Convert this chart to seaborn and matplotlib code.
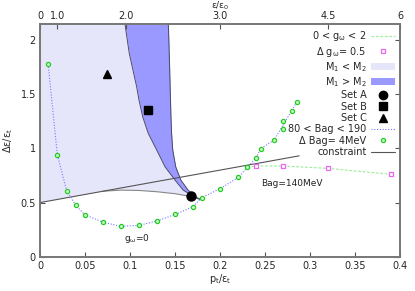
import matplotlib
matplotlib.use("Agg")
import matplotlib.pyplot as plt
import seaborn as sns
import numpy as np
import pandas as pd
from matplotlib.lines import Line2D
from matplotlib.patches import Patch

# ---- data ----
bag_p = [0.009, 0.0193, 0.0296, 0.0396, 0.0496, 0.0696, 0.0896, 0.11, 0.13, 0.15,
         0.1696, 0.1796, 0.2, 0.2204, 0.2304, 0.2396, 0.245, 0.26, 0.27, 0.27,
         0.2796, 0.285]
bag_y = [1.78, 0.94, 0.61, 0.477, 0.388, 0.32, 0.28, 0.29, 0.33, 0.39,
         0.46, 0.545, 0.628, 0.733, 0.825, 0.908, 0.997, 1.077, 1.176, 1.256,
         1.348, 1.425]

gw_p = [0.2304, 0.24, 0.2704, 0.3204, 0.39]
gw_y = [0.825, 0.838, 0.838, 0.816, 0.761]

constraint_p = [0.0, 0.288]
constraint_y = [0.5, 0.932]

# M1 > M2 region: left and right boundaries (as functions of y)
dark_y = [2.15, 1.878, 1.57, 1.447, 1.293, 1.139, 0.985, 0.831, 0.708, 0.616, 0.554, 0.53]
dark_left = [0.0944, 0.0992, 0.1074, 0.110, 0.1141, 0.1203, 0.1297, 0.1389, 0.150, 0.159, 0.171, 0.178]
dark_right = [0.1426, 0.1436, 0.1446, 0.1450, 0.1455, 0.1462, 0.1475, 0.1508, 0.1565, 0.1645, 0.1725, 0.178]

# M1 < M2 region lower boundary
light_low_p = [0.0, 0.07, 0.09, 0.11, 0.13, 0.15, 0.165, 0.178]
light_low_y = [0.5, 0.605, 0.615, 0.612, 0.60, 0.582, 0.56, 0.53]

setA = (0.1674, 0.56)
setB = (0.1196, 1.36)
setC = (0.074, 1.69)

xticks = [0, 0.05, 0.1, 0.15, 0.2, 0.25, 0.3, 0.35, 0.4]
xticklabels = ["0", "0.05", "0.1", "0.15", "0.2", "0.25", "0.3", "0.35", "0.4"]
yticks = [0, 0.5, 1, 1.5, 2]
yticklabels = ["0", "0.5", "1", "1.5", "2"]
top_pos = [0.0, 0.0193, 0.0956, 0.2, 0.3204, 0.4]
top_labels = ["0", "1.0", "2.0", "3.0", "4.5", "6"]

# ---- style ----
sns.set_theme(style="white")
plt.rcParams['font.family'] = ['DejaVu Sans']
plt.rcParams['mathtext.default'] = 'regular'
fs = 7

fig = plt.figure(figsize=(4.15, 2.91), dpi=100)
ax = fig.add_axes([40/415, 1-256.7/291, 360/415, (256.7-24)/291])

light_c = '#e6e6fa'
dark_c = '#9999ff'
edge_c = '#4a4a6a'

# light region polygon
lp = list(light_low_p) + dark_left[::-1][1:] + [0.0]
ly = list(light_low_y) + dark_y[::-1][1:] + [2.15]
ax.fill(lp, ly, color=light_c, lw=0, zorder=1)
ax.plot(light_low_p[1:], light_low_y[1:], color='#888888', lw=0.8, zorder=2)

# dark region
ax.fill_betweenx(dark_y, dark_left, dark_right, color=dark_c, lw=0, zorder=2)
ax.plot(dark_left, dark_y, color=edge_c, lw=0.7, zorder=3)
ax.plot(dark_right, dark_y, color=edge_c, lw=0.7, zorder=3)

# constraint
sns.lineplot(x=constraint_p, y=constraint_y, ax=ax, color='#555555', lw=0.8, zorder=4)

# Bag curve
dfb = pd.DataFrame({'p': bag_p, 'y': bag_y})
sns.lineplot(data=dfb, x='p', y='y', sort=False, ax=ax, color='#7777ff', lw=0.8,
             linestyle=(0, (1, 1.5)), zorder=5)
ax.plot(bag_p, bag_y, ls='none', marker='o', ms=3.0, mfc='#ccffcc', mec='#22cc22', mew=0.9, zorder=6)

# g_omega curve
dfg = pd.DataFrame({'p': gw_p, 'y': gw_y})
sns.lineplot(data=dfg, x='p', y='y', sort=False, ax=ax, color='#99ee99', lw=0.8,
             linestyle=(0, (2.5, 1.5)), zorder=5)
ax.plot(gw_p[1:], gw_y[1:], ls='none', marker='s', ms=3.5, mfc='white', mec='#ee66ee', mew=0.9, zorder=6)

# sets
ax.plot(*setA, marker='o', color='black', ms=6.5, ls='none', zorder=7)
ax.plot(*setB, marker='s', color='black', ms=6, ls='none', zorder=7)
ax.plot(*setC, marker='^', color='black', ms=5.5, ls='none', zorder=7)

ax.text(0.108, 0.17, r'g$_\omega$=0', fontsize=6.5, ha='center', va='center', color='#222222')
ax.text(0.28, 0.68, 'Bag=140MeV', fontsize=6.5, ha='center', va='center', color='#222222')

ax.set_xlim(0, 0.4)
ax.set_ylim(0, 2.15)
ax.set_xticks(xticks)
ax.set_xticklabels(xticklabels)
ax.set_yticks(yticks)
ax.set_yticklabels(yticklabels)
ax.set_xlabel('p$_t$/ε$_t$', fontsize=fs, labelpad=1)
ax.set_ylabel('Δε/ε$_t$', fontsize=fs, labelpad=4)
ax.tick_params(axis='both', direction='in', length=3.5, width=0.8, color='#555555',
               labelsize=fs, pad=3, right=True, left=True, bottom=True)

ax2 = ax.twiny()
ax2.set_xlim(0, 0.4)
ax2.set_xticks(top_pos)
ax2.set_xticklabels(top_labels)
ax2.tick_params(axis='x', direction='in', length=3.5, width=0.8, color='#555555',
                labelsize=fs, pad=2)
ax2.set_xlabel('ε/ε$_0$', fontsize=6.5, labelpad=2)

for a in (ax, ax2):
    for s in a.spines.values():
        s.set_color('#777777')
        s.set_linewidth(1.2)
        s.set_visible(True)

handles = [
    Line2D([], [], color='#99ee99', lw=0.8, linestyle=(0, (2.5, 1.5))),
    Line2D([], [], ls='none', marker='s', ms=3.5, mfc='white', mec='#ee66ee', mew=0.9),
    Patch(facecolor=light_c, edgecolor='none'),
    Patch(facecolor=dark_c, edgecolor='none'),
    Line2D([], [], ls='none', marker='o', color='black', ms=6),
    Line2D([], [], ls='none', marker='s', color='black', ms=5.5),
    Line2D([], [], ls='none', marker='^', color='black', ms=5.5),
    Line2D([], [], color='#7777ff', lw=0.8, linestyle=(0, (1, 1.5))),
    Line2D([], [], ls='none', marker='o', ms=3.0, mfc='#ccffcc', mec='#22cc22', mew=0.9),
    Line2D([], [], color='#555555', lw=0.8),
]
labels = [r'0 < g$_\omega$ < 2', r'Δ g$_\omega$= 0.5', 'M$_1$ < M$_2$', 'M$_1$ > M$_2$',
          'Set A', 'Set B', 'Set C', '80 < Bag < 190', 'Δ Bag= 4MeV', 'constraint']
leg = ax.legend(handles, labels, loc='upper right', bbox_to_anchor=(1.0, 1.0),
                markerfirst=False, frameon=False, fontsize=fs, handlelength=2.4,
                handleheight=0.7, labelspacing=0.14, handletextpad=0.5, borderaxespad=0.15)
leg.set_zorder(10)

fig.savefig('out.png', dpi=100)
